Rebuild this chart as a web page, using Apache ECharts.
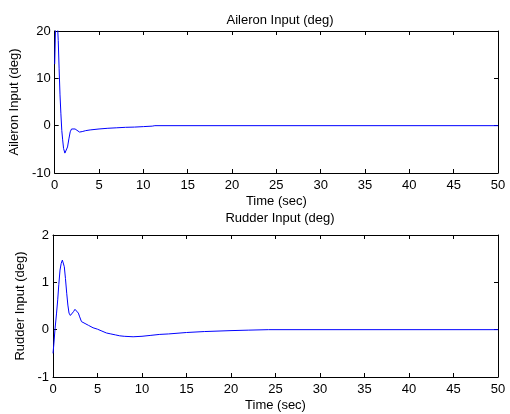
<!DOCTYPE html>
<html lang="en">
<head>
  <meta charset="UTF-8">
  <title>Aileron / Rudder input</title>
  <script type="text/javascript" src="https://cdn.jsdelivr.net/npm/echarts@6/dist/echarts.min.js"></script>
  <style>
    html, body, #container {
      width: 100%;
      height: 100%;
      margin: 0;
      padding: 0;
      overflow: hidden;
      background: #fff;
    }
  </style>
</head>
<body>
  <div id="container"></div>

  <script type="text/javascript">
    // values
    var aileronTime = [0, 0.1, 0.2, 0.3, 0.4, 0.5, 0.6, 0.7, 0.8, 0.9, 1.0, 1.15, 1.3, 1.45, 1.6, 1.75, 1.9, 2.1, 2.3, 2.5, 2.8, 3.1, 3.5, 4, 5, 6, 7, 8, 9, 10, 11, 11.3, 50];
    var aileronDeg = [13, 21, 24, 22, 18, 12, 6.5, 2.5, -1, -3, -4.8, -5.8, -5.5, -4.5, -2.8, -1.3, -0.7, -0.45, -0.7, -1.1, -1.35, -1.25, -1.05, -0.9, -0.7, -0.55, -0.45, -0.35, -0.3, -0.2, -0.1, 0, 0];

    var rudderTime = [0, 0.1, 0.22, 0.4, 0.53, 0.65, 0.79, 0.92, 1.05, 1.15, 1.27, 1.4, 1.54, 1.67, 1.8, 1.95, 2.1, 2.3, 2.47, 2.65, 2.85, 3.0, 3.2, 3.6, 4, 4.5, 5, 5.5, 6, 6.5, 7, 7.5, 8, 9, 10, 11, 12, 13, 15, 17, 20, 22, 24.2, 50];
    var rudderDeg = [-0.5, -0.3, 0, 0.35, 0.63, 0.95, 1.26, 1.4, 1.47, 1.44, 1.33, 1.08, 0.77, 0.52, 0.35, 0.3, 0.32, 0.38, 0.43, 0.4, 0.35, 0.27, 0.17, 0.13, 0.09, 0.04, 0.01, -0.03, -0.07, -0.09, -0.11, -0.13, -0.14, -0.15, -0.14, -0.12, -0.1, -0.09, -0.06, -0.04, -0.02, -0.01, 0, 0];

    var timeTicks = { min: 0, max: 50, interval: 5 };
    var aileronTicks = { min: -10, max: 20, interval: 10 };
    var rudderTicks = { min: -1, max: 2, interval: 1 };

    function pairs(xs, ys) {
      return xs.map(function (x, i) { return [x, ys[i]]; });
    }

    var font = { fontFamily: 'Liberation Sans, Arial, sans-serif', fontSize: 13, color: '#000' };
    var lineStyle = { color: '#000', width: 1 };

    function xAx(grid, pos, ticks, name) {
      return {
        type: 'value', gridIndex: grid, position: pos,
        min: ticks.min, max: ticks.max, interval: ticks.interval,
        name: name || '', nameLocation: 'middle', nameGap: 22, nameTextStyle: font,
        axisLine: { show: true, onZero: false, lineStyle: lineStyle },
        axisTick: { show: true, inside: true, length: 4, lineStyle: lineStyle },
        axisLabel: Object.assign({ show: pos === 'bottom', margin: 6 }, font),
        splitLine: { show: false }
      };
    }

    function yAx(grid, pos, ticks, name, gap) {
      return {
        type: 'value', gridIndex: grid, position: pos,
        min: ticks.min, max: ticks.max, interval: ticks.interval,
        name: name || '', nameLocation: 'middle', nameGap: gap || 30, nameTextStyle: font,
        axisLine: { show: true, onZero: false, lineStyle: lineStyle },
        axisTick: { show: true, inside: true, length: 4, lineStyle: lineStyle },
        axisLabel: Object.assign({ show: pos === 'left', margin: 4 }, font),
        splitLine: { show: false }
      };
    }

    var myChart = echarts.init(document.getElementById('container'), null, { renderer: 'canvas' });
    myChart.setOption({
      animation: false,
      title: [
        { text: 'Aileron Input (deg)', left: 275, top: 9, textAlign: 'center',
          textStyle: Object.assign({ fontWeight: 'normal' }, font) },
        { text: 'Rudder Input (deg)', left: 275, top: 207, textAlign: 'center',
          textStyle: Object.assign({ fontWeight: 'normal' }, font) }
      ],
      grid: [
        { left: 53, right: 12, top: 31, height: 142 },
        { left: 53, right: 12, top: 235, height: 142 }
      ],
      xAxis: [
        xAx(0, 'bottom', timeTicks, 'Time (sec)'),
        xAx(0, 'top', timeTicks),
        xAx(1, 'bottom', timeTicks, 'Time (sec)'),
        xAx(1, 'top', timeTicks)
      ],
      yAxis: [
        yAx(0, 'left', aileronTicks, 'Aileron Input (deg)', 30),
        yAx(0, 'right', aileronTicks),
        yAx(1, 'left', rudderTicks, 'Rudder Input (deg)', 24),
        yAx(1, 'right', rudderTicks)
      ],
      series: [
        {
          type: 'line', xAxisIndex: 0, yAxisIndex: 0, clip: true,
          data: pairs(aileronTime, aileronDeg),
          showSymbol: false, symbol: 'none',
          lineStyle: { color: '#0000ff', width: 1 }
        },
        {
          type: 'line', xAxisIndex: 2, yAxisIndex: 2, clip: true,
          data: pairs(rudderTime, rudderDeg),
          showSymbol: false, symbol: 'none',
          lineStyle: { color: '#0000ff', width: 1 }
        }
      ]
    });
  </script>
</body>
</html>
